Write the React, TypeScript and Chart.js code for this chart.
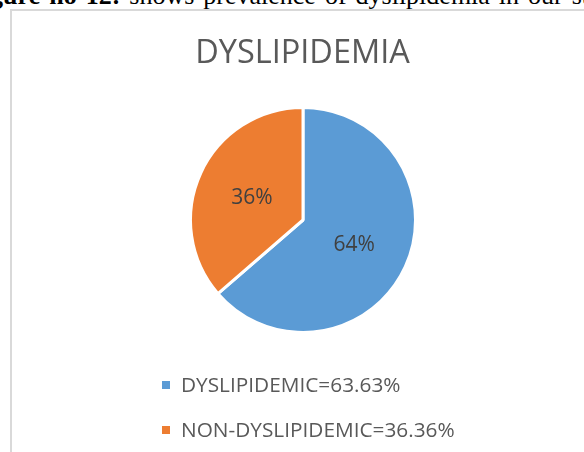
import React, { useEffect, useRef } from "react";
import { Chart, registerables } from "chart.js";

Chart.register(...registerables);

const categories = ["DYSLIPIDEMIC=63.63%", "NON-DYSLIPIDEMIC=36.36%"];
const values = [63.63, 36.36];
const sliceLabels = ["64%", "36%"];
const colors = ["#5B9BD5", "#ED7D31"];
const chartTitle = "DYSLIPIDEMIA";

const FONT = "'Open Sans', 'Liberation Sans', sans-serif";

const customDraw = {
  id: "customDraw",
  afterDraw(chart: any) {
    const ctx = chart.ctx;
    ctx.save();
    // title
    ctx.fillStyle = "#595959";
    ctx.font = `32.5px ${FONT}`;
    ctx.textAlign = "center";
    ctx.textBaseline = "alphabetic";
    ctx.fillText(chartTitle, 302.5, 63);

    // slice labels
    const meta = chart.getDatasetMeta(0);
    ctx.fillStyle = "#404040";
    ctx.font = `21px ${FONT}`;
    meta.data.forEach((arc: any, i: number) => {
      const p = arc.getCenterPoint();
      ctx.fillText(sliceLabels[i], p.x, p.y + 7.5);
    });

    // legend
    ctx.textAlign = "left";
    ctx.font = `20.8px ${FONT}`;
    const labels = chart.data.labels as string[];
    const bg = chart.data.datasets[0].backgroundColor as string[];
    labels.forEach((lab: string, i: number) => {
      const baseY = 392 + i * 45;
      ctx.fillStyle = bg[i];
      ctx.fillRect(162, baseY - 11, 8, 8);
      ctx.fillStyle = "#595959";
      ctx.fillText(lab, 181, baseY);
    });
    ctx.restore();
  },
};

export default function App() {
  const ref = useRef<HTMLCanvasElement | null>(null);
  useEffect(() => {
    if (!ref.current) return;
    const chart = new Chart(ref.current, {
      type: "pie",
      data: {
        labels: categories,
        datasets: [
          {
            data: values,
            backgroundColor: colors,
            borderColor: "#ffffff",
            borderWidth: 3,
            hoverBorderWidth: 3,
          },
        ],
      },
      options: {
        animation: false,
        responsive: true,
        maintainAspectRatio: false,
        layout: { padding: { top: 106, bottom: 118, left: 189, right: 167 } },
        plugins: {
          legend: { display: false },
          title: { display: false },
          tooltip: { enabled: false },
        },
      },
      plugins: [customDraw],
    });
    return () => chart.destroy();
  }, []);

  return (
    <div
      style={{
        position: "absolute",
        left: 0,
        top: 0,
        width: 584,
        height: 452,
        overflow: "hidden",
        background: "#ffffff",
      }}
    >
      <div
        style={{
          position: "absolute",
          left: -33,
          top: -17,
          whiteSpace: "nowrap",
          fontFamily: "'Liberation Serif', 'Times New Roman', serif",
          fontSize: 26,
          lineHeight: "26px",
          wordSpacing: 2.5,
          color: "#000",
        }}
      >
        <b>Figure no 12:</b> shows prevalence of dyslipidemia in our study
      </div>
      <div
        style={{
          position: "absolute",
          left: 10,
          top: 9,
          width: 700,
          height: 600,
          borderLeft: "2px solid #d9d9d9",
          borderTop: "2px solid #d9d9d9",
          boxSizing: "border-box",
        }}
      />
      <div style={{ position: "absolute", left: 0, top: 0, width: 584, height: 452 }}>
        <canvas ref={ref} />
      </div>
    </div>
  );
}
